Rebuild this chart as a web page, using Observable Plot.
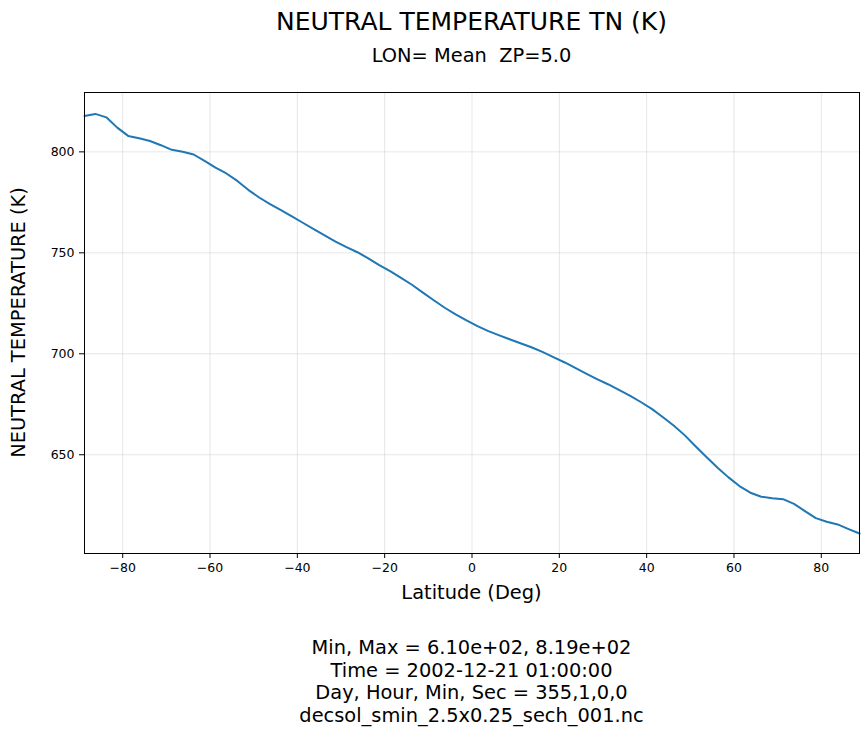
<!DOCTYPE html>
<html>
<head>
<meta charset="utf-8">
<script src="https://cdn.jsdelivr.net/npm/d3@7"></script>
<script src="https://cdn.jsdelivr.net/npm/@observablehq/plot@0.6"></script>
<style>
  html, body { margin: 0; padding: 0; background: #fff; }
  svg text { font-family: "DejaVu Sans", sans-serif; }
</style>
</head>
<body>
<div id="chart"></div>
<script>
const latitudes = [
  -88.75, -86.25, -83.75, -81.25, -78.75, -76.25, -73.75, -71.25, -68.75, -66.25,
  -63.75, -61.25, -58.75, -56.25, -53.75, -51.25, -48.75, -46.25, -43.75, -41.25,
  -38.75, -36.25, -33.75, -31.25, -28.75, -26.25, -23.75, -21.25, -18.75, -16.25,
  -13.75, -11.25, -8.75, -6.25, -3.75, -1.25, 1.25, 3.75, 6.25, 8.75,
  11.25, 13.75, 16.25, 18.75, 21.25, 23.75, 26.25, 28.75, 31.25, 33.75,
  36.25, 38.75, 41.25, 43.75, 46.25, 48.75, 51.25, 53.75, 56.25, 58.75,
  61.25, 63.75, 66.25, 68.75, 71.25, 73.75, 76.25, 78.75, 81.25, 83.75,
  86.25, 88.75
];
const temperatures = [
  817.8, 818.8, 817.1, 812.0, 807.9, 806.7, 805.4, 803.3, 801.0, 800.1,
  798.7, 795.5, 792.2, 789.3, 785.6, 781.2, 777.4, 774.1, 771.1, 768.0,
  764.9, 761.7, 758.6, 755.6, 752.8, 750.3, 747.3, 743.9, 740.9, 737.6,
  734.2, 730.3, 726.5, 722.8, 719.5, 716.5, 713.7, 711.2, 709.1, 707.1,
  705.1, 703.1, 700.8, 698.2, 695.7, 692.9, 690.1, 687.3, 684.8, 682.0,
  679.2, 676.0, 672.6, 668.6, 664.4, 659.6, 654.1, 648.8, 643.6, 638.8,
  634.5, 631.2, 629.2, 628.5, 628.0, 625.7, 622.1, 618.6, 616.8, 615.5,
  613.2, 611.0
];
const xTicks = [-80, -60, -40, -20, 0, 20, 40, 60, 80];
const yTicks = [650, 700, 750, 800];

const titleText = "NEUTRAL TEMPERATURE TN (K)";
const subtitleText = "LON= Mean  ZP=5.0";
const xLabel = "Latitude (Deg)";
const yLabel = "NEUTRAL TEMPERATURE (K)";
const captionLines = [
  "Min, Max = 6.10e+02, 8.19e+02",
  "Time = 2002-12-21 01:00:00",
  "Day, Hour, Min, Sec = 355,1,0,0",
  "decsol_smin_2.5x0.25_sech_001.nc"
];

const data = latitudes.map((lat, i) => ({lat, tn: temperatures[i]}));

const W = 868, H = 736;
const mL = 84, mR = 9, mT = 92, mB = 183;

const fmt = d => d < 0 ? "\u2212" + Math.abs(d) : String(d);

const chart = Plot.plot({
  width: W,
  height: H,
  marginLeft: mL,
  marginRight: mR,
  marginTop: mT,
  marginBottom: mB,
  style: {fontFamily: "DejaVu Sans, sans-serif", fontSize: "12.5px", background: "#fff", color: "#000"},
  x: {domain: [-88.75, 88.75]},
  y: {domain: [601.1, 829.4]},
  marks: [
    Plot.gridX(xTicks, {stroke: "#b0b0b0", strokeOpacity: 0.4, strokeWidth: 0.8}),
    Plot.gridY(yTicks, {stroke: "#b0b0b0", strokeOpacity: 0.4, strokeWidth: 0.8}),
    Plot.line(data, {x: "lat", y: "tn", stroke: "#1f77b4", strokeWidth: 2}),
    Plot.axisX({ticks: xTicks, tickSize: 5, tickPadding: 5, tickFormat: fmt, label: null, fontSize: 12.5}),
    Plot.axisY({ticks: yTicks, tickSize: 5, tickPadding: 5, tickFormat: fmt, label: null, fontSize: 12.5}),
    Plot.frame({stroke: "#000", strokeWidth: 1})
  ]
});

document.getElementById("chart").appendChild(chart);

const svg = d3.select(chart);
const cx = mL + (W - mL - mR) / 2;
const cy = mT + (H - mT - mB) / 2;

function addText(txt, x, y, size, extra) {
  const t = svg.append("text")
    .attr("x", x).attr("y", y)
    .attr("text-anchor", "middle")
    .attr("fill", "#000")
    .style("font-family", "DejaVu Sans, sans-serif")
    .style("font-size", size + "px")
    .style("white-space", "pre")
    .text(txt);
  if (extra) extra(t);
  return t;
}

addText(titleText, cx, 30, 25);
addText(subtitleText, cx, 62, 19.4);
addText(xLabel, cx, 599, 19.4);
addText(yLabel, 0, 0, 19.4, t => t.attr("transform", `translate(25,${cy}) rotate(-90)`));
captionLines.forEach((line, i) => addText(line, cx, 654 + i * 22.5, 19.4));
</script>
</body>
</html>
